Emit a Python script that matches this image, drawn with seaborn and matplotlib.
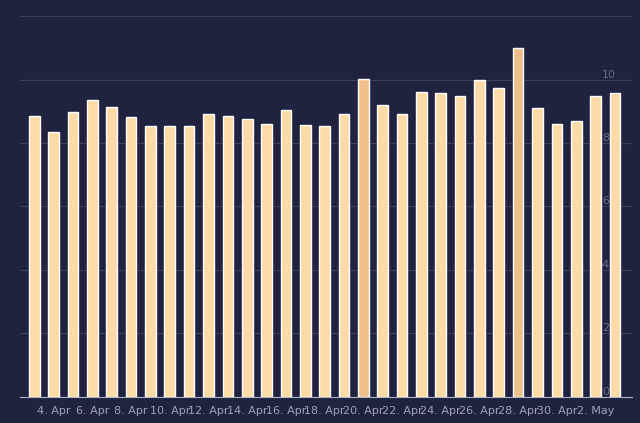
import matplotlib
matplotlib.use("Agg")
import matplotlib.pyplot as plt
import seaborn as sns
import pandas as pd

dates = pd.date_range("2024-04-03", "2024-05-03").strftime("%Y-%m-%d").tolist()
values = [8.86, 8.36, 8.99, 9.34, 9.12, 8.83, 8.52, 8.55, 8.52, 8.90, 8.86, 8.77, 8.61, 9.05,
          8.58, 8.55, 8.90, 10.03, 9.21, 8.90, 9.62, 9.59, 9.49, 9.97, 9.72, 11.0, 9.09, 8.61,
          8.68, 9.49, 9.59]
highlight = ["2024-04-20", "2024-04-28"]

df = pd.DataFrame({"date": dates, "value": values})
df["hl"] = df["date"].isin(highlight)
bg = "#1f2340"
palette = ["#f0c08a" if h else "#fcdba8" for h in df["hl"]]

sns.set_style("dark")
fig = plt.figure(figsize=(6.4, 4.23), dpi=100, facecolor=bg)
ax = fig.add_axes([0.031, 0.062, 0.957, 0.9])
ax.set_facecolor(bg)
sns.barplot(data=df, x="date", y="value", hue="date", palette=palette, legend=False,
            width=0.55, ax=ax, saturation=1, zorder=3)
ax.set_ylim(0, 12)
ax.set_xlim(-0.75, 30.9)
ax.set_yticks([0, 2, 4, 6, 8, 10, 12])
ax.set_yticklabels(["0", "2", "4", "6", "8", "10", ""])
ax.yaxis.tick_right()
ax.tick_params(axis="y", direction="in", pad=-22, length=0, labelcolor="#6b6e80", labelsize=8)
for lab in ax.get_yticklabels():
    lab.set_verticalalignment("bottom")
ax.grid(axis="y", color="#3c4058", lw=0.8, zorder=0)
ax.grid(axis="x", visible=False)
labels = []
for i, d in enumerate(df["date"]):
    dt = pd.Timestamp(d)
    labels.append(f"{dt.day}. {dt.strftime('%b')}")
ticks = list(range(1, 31, 2))
ax.set_xticks(ticks)
ax.set_xticklabels([labels[i] for i in ticks])
ax.tick_params(axis="x", colors="#9fa2b4", labelsize=8, length=5, color="#b0b4c8", pad=2)
ax.set_xlabel("")
ax.set_ylabel("")
for s in ["top", "right", "left"]:
    ax.spines[s].set_visible(False)
ax.spines["bottom"].set_color("#b0b4c8")
fig.savefig("out.png", dpi=100, facecolor=bg)
